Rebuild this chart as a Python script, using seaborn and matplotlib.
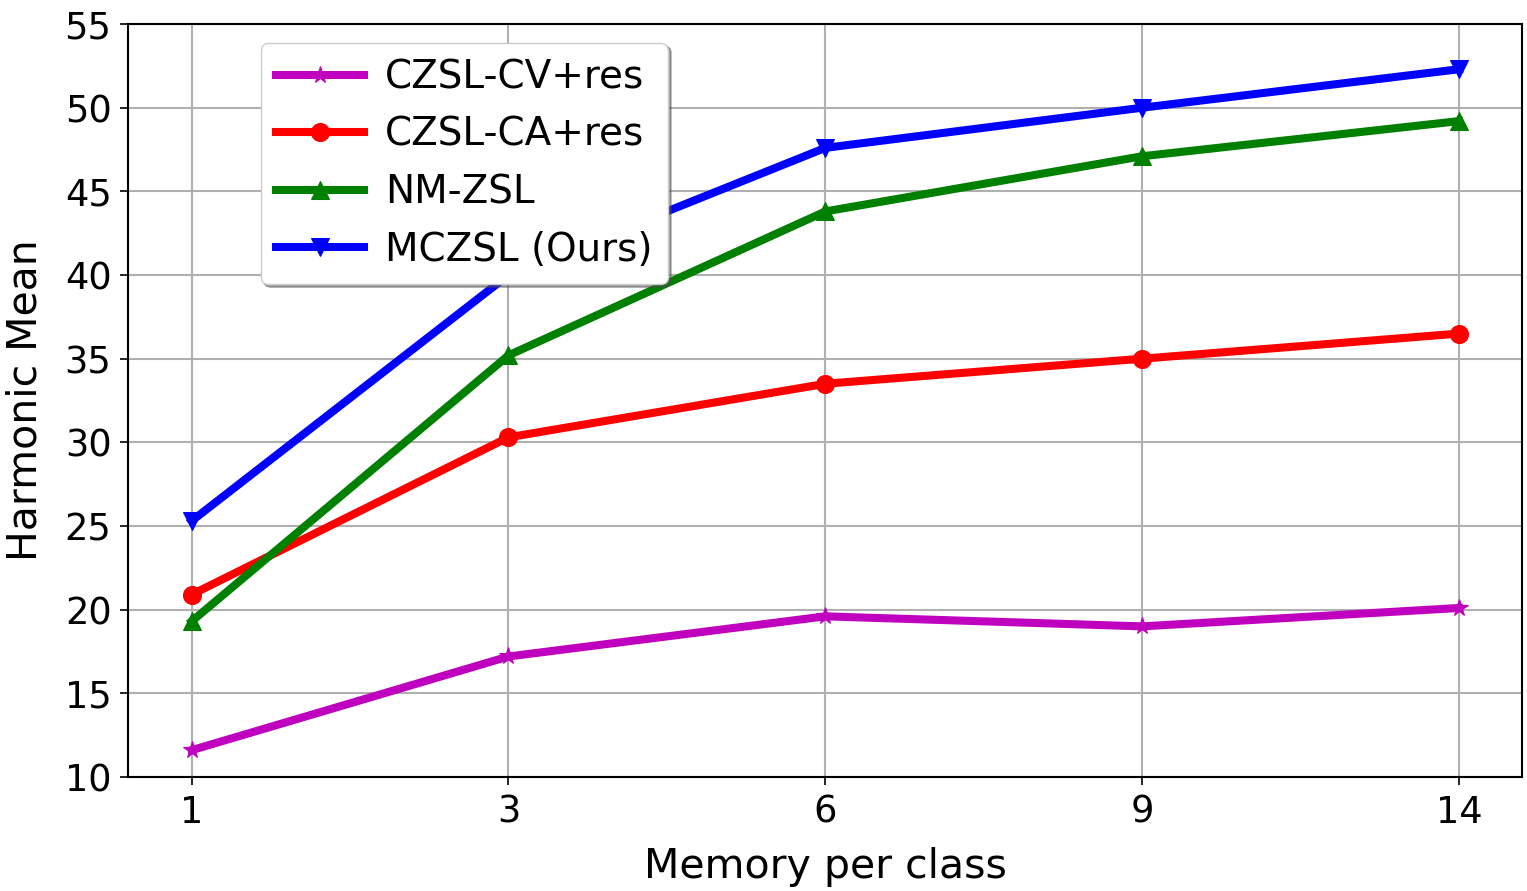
import matplotlib
matplotlib.use("Agg")
import matplotlib.pyplot as plt
import seaborn as sns
import pandas as pd

memory = ["1", "3", "6", "9", "14"]
series_names = ["CZSL-CV+res", "CZSL-CA+res", "NM-ZSL", "MCZSL (Ours)"]
czsl_cv = [11.6, 17.2, 19.6, 19.0, 20.1]
czsl_ca = [20.9, 30.3, 33.5, 35.0, 36.5]
nm_zsl = [19.3, 35.2, 43.8, 47.1, 49.2]
mczsl = [25.3, 40.0, 47.6, 50.0, 52.3]

colors = ["m", "r", "g", "b"]
markers = ["*", "o", "^", "v"]

plt.rcParams['font.family'] = ['DejaVu Sans']
fig, ax = plt.subplots(figsize=(15.27, 8.91), dpi=100)

for name, vals, c, m in zip(series_names, [czsl_cv, czsl_ca, nm_zsl, mczsl], colors, markers):
    df = pd.DataFrame({"x": range(len(memory)), "y": vals})
    sns.lineplot(data=df, x="x", y="y", ax=ax, color=c, marker=m, markersize=13,
                 markeredgecolor=c, linewidth=5.8, label=name)

ax.set_xticks(range(len(memory)))
ax.set_xticklabels(memory)
ax.set_xlim(-0.2, 4.2)
ax.set_ylim(10, 55)
ax.set_yticks(range(10, 56, 5))
ax.tick_params(labelsize=26.5, length=6, width=1.2, pad=6)
ax.set_xlabel("Memory per class", fontsize=29.5, labelpad=12)
ax.set_ylabel("Harmonic Mean", fontsize=29.5, labelpad=14)
ax.grid(True, color="#b0b0b0", linewidth=1.5)
for s in ax.spines.values():
    s.set_linewidth(1.5)

ax.legend(loc="upper left", bbox_to_anchor=(0.095, 0.975), borderaxespad=0,
          fontsize=28, shadow=True, fancybox=True, handlelength=2.25,
          handletextpad=0.55, framealpha=1)

plt.subplots_adjust(left=0.084, right=0.997, top=0.973, bottom=0.128)
plt.savefig("out.png", dpi=100)
